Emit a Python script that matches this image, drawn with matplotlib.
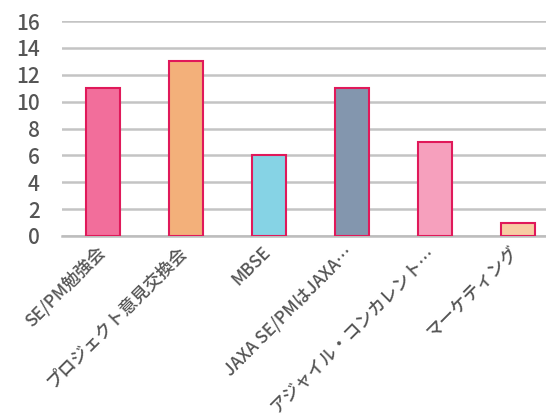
import matplotlib
matplotlib.use("Agg")
import matplotlib.pyplot as plt
import matplotlib.transforms as mtransforms
import numpy as np

plt.rcParams['font.family'] = ['Noto Sans CJK JP', 'DejaVu Sans']

categories = ["SE/PM勉強会", "プロジェクト意見交換会", "MBSE",
              "JAXA SE/PMはJAXA…", "アジャイル・コンカレント…", "マーケティング"]
values = [11, 13, 6, 11, 7, 1]
yticks = [0, 2, 4, 6, 8, 10, 12, 14, 16]

colors = ['#F26E9B', '#F3B07A', '#86D3E5', '#8396AE', '#F6A0BD', '#F8CCA3']
edge = '#E0195A'

fig = plt.figure(figsize=(5.46, 4.18), dpi=100)
ax = fig.add_axes([62 / 546, 1 - 236 / 418, 497 / 546, 215 / 418])

x = np.arange(len(categories))
ax.bar(x, values, width=0.41, color=colors, edgecolor=edge, linewidth=1.5, zorder=3)

ax.set_xlim(-0.5, len(categories) - 0.5)
ax.set_ylim(0, 16)
ax.set_yticks(yticks)
ax.yaxis.grid(True, color='#C4C4C4', linewidth=1.8, zorder=0)
ax.set_axisbelow(True)
for s in ['top', 'right', 'left']:
    ax.spines[s].set_visible(False)
ax.spines['bottom'].set_color('#BDBDBD')
ax.spines['bottom'].set_linewidth(1.8)
ax.tick_params(axis='both', length=0, colors='#555555')
ax.tick_params(axis='y', labelsize=15, pad=16)
for lbl in ax.get_yticklabels():
    lbl.set_fontweight('medium')
ax.set_xticks(x)
ax.set_xticklabels(categories, rotation=45, ha='right', rotation_mode='anchor',
                   fontsize=12.5, fontweight='medium', color='#555555')
ax.tick_params(axis='x', pad=5)

# nudge the rotated labels a little to the left
offset = mtransforms.ScaledTranslation(-8 / 100, 0, fig.dpi_scale_trans)
for lbl in ax.get_xticklabels():
    lbl.set_transform(lbl.get_transform() + offset)

fig.savefig('out.png', dpi=100)
